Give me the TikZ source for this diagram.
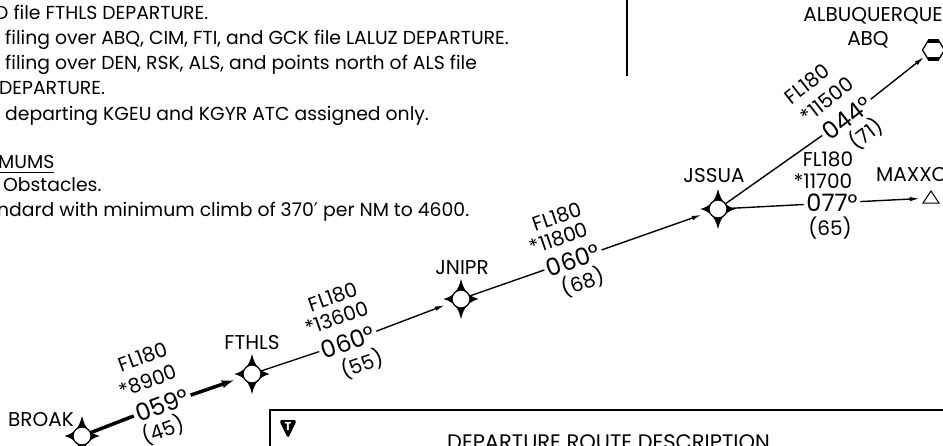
\documentclass[tikz,border=0pt]{standalone}
\usepackage{fontspec}
\setmainfont{Poppins}
\newfontfamily\djv{DejaVu Sans}
\usetikzlibrary{arrows.meta}
\begin{document}
\begin{tikzpicture}[x=1pt,y=-1pt,
  txt/.style={anchor=base west,inner sep=0pt,font=\fontsize{18.8}{18.8}\selectfont},
  lbl/.style={inner sep=0pt,font=\fontsize{20}{20}\selectfont},
  hdg/.style={inner sep=2.5pt,font=\fontsize{24}{24}\selectfont},
  wpt/.style={circle,minimum size=18pt,inner sep=0pt},
  leg/.style={line width=1.4pt},
  legarrow/.style={line width=1.4pt,-{Latex[length=10pt,width=4.5pt]}},
  thickleg/.style={line width=3.5pt},
  thickarrow/.style={line width=3.5pt,-{Latex[length=14pt,width=8pt]}},
  wstar/.pic={
    \fill (0,-20) .. controls (3,-7.5) and (7.5,-3) .. (17.5,0)
          .. controls (7.5,3) and (3,7.5) .. (0,20)
          .. controls (-3,7.5) and (-7.5,3) .. (-17.5,0)
          .. controls (-7.5,-3) and (-3,-7.5) .. cycle;
    \draw[fill=white,line width=1.2pt] (0,0) circle (9pt);
  }
]
\useasboundingbox (0,0) rectangle (943,445);
\clip (0,0) rectangle (943,445);

% left text block
\node[txt] (t1) at (-5,19) {D file FTHLS DEPARTURE.};
\node[txt] (t2) at (5,44) {filing over ABQ, CIM, FTI, and GCK file LALUZ DEPARTURE.};
\node[txt] (t3) at (5,69) {filing over DEN, RSK, ALS, and points north of ALS file};
\node[txt] (t4) at (-1,94) {DEPARTURE.};
\node[txt] (t5) at (5,120) {departing KGEU and KGYR ATC assigned only.};
\node[txt] (t6) at (-2,168) {MUMS};
\draw[line width=1pt] ([yshift=-4pt]t6.base west) -- ([yshift=-4pt]t6.base east);
\node[txt] (t7) at (3,191) {Obstacles.};
\node[txt] (t8) at (-3,216) {ndard with minimum climb of 370{\djv ′} per NM to 4600.};

% separator line
\draw[line width=1.5pt] (627,0) -- (627,76);

% waypoints
\node[wpt] (broak) at (82,436) {};
\node[wpt] (fthls) at (252,374) {};
\node[wpt] (jnipr) at (461,299) {};
\node[wpt] (jssua) at (718,209) {};
\node[circle,minimum size=22pt,inner sep=0pt] (abq) at (933,50) {};
\node[circle,minimum size=22pt,inner sep=0pt] (maxxo) at (931,198) {};

\node[lbl] (broakl) at (41,420) {BROAK};
\node[lbl] (fthlsl) at (252,343) {FTHLS};
\node[lbl] (jniprl) at (462,268) {JNIPR};
\node[lbl] (jssual) at (714,176) {JSSUA};
\node[lbl] (abql1) at (873,16) {ALBUQUERQUE};
\node[lbl] (abql2) at (868,40) {ABQ};
\node[lbl,anchor=west] (maxxol) at (876,175) {MAXXO};

% leg 1
\node[lbl,rotate=20] (l1a) at (143,357) {FL180};
\node[lbl,rotate=20] (l1b) at (148,381) {*8900};
\node[hdg,rotate=20] (h1) at (162,405) {059°};
\node[lbl,rotate=20] (l1d) at (163,430) {(45)};
\draw[thickleg] (broak) -- (h1);
\draw[thickarrow,shorten >=8pt] (h1) -- (fthls);

% leg 2
\node[lbl,rotate=19.5] (l2a) at (333,297) {FL180};
\node[lbl,rotate=19.5] (l2b) at (337,318) {*13600};
\node[hdg,rotate=19.5] (h2) at (348,342) {060°};
\node[lbl,rotate=19.5] (l2d) at (362,364) {(55)};
\draw[leg] (fthls) -- (h2);
\draw[legarrow,shorten >=8pt] (h2) -- (jnipr);

% leg 3
\node[lbl,rotate=19] (l3a) at (557,217) {FL180};
\node[lbl,rotate=19] (l3b) at (559,238) {*11800};
\node[hdg,rotate=19] (h3) at (573,260) {060°};
\node[lbl,rotate=19] (l3d) at (583,282) {(68)};
\draw[leg] (jnipr) -- (h3);
\draw[legarrow,shorten >=8pt] (h3) -- (jssua);

% leg 4
\node[lbl,rotate=38] (l4a) at (807,84) {FL180};
\node[lbl,rotate=38] (l4b) at (827,100) {*11500};
\node[hdg,rotate=38] (h4) at (847,118) {044°};
\node[lbl,rotate=38] (l4d) at (866,134) {(71)};
\draw[leg] (jssua) -- (h4);
\draw[legarrow] (h4) -- (abq);

% leg 5
\node[lbl] (l5a) at (828,159) {FL180};
\node[lbl] (l5b) at (823,181) {*11700};
\node[hdg] (h5) at (832,203) {077°};
\node[lbl] (l5d) at (830,228) {(65)};
\draw[leg] (jssua) -- (h5);
\draw[legarrow] (h5) -- (maxxo);

% symbols
\pic at (broak.center) {wstar};
\pic at (fthls.center) {wstar};
\pic at (jnipr.center) {wstar};
\pic at (jssua.center) {wstar};
\draw[line width=1.3pt] (922.5,50) -- (928,41) -- (939,41) -- (944.5,50) -- (939,59) -- (928,59) -- cycle;
\draw[line width=3.5pt] (928,41) -- (939,41) (928,59) -- (939,59);
\draw[line width=1pt,line join=miter] (923,203) -- (939,203) -- (931,191) -- cycle;

% description box
\draw[line width=2pt] (270,460) -- (270,410) -- (960,410);
\fill[rounded corners=3pt] (279,420) -- (297,420) -- (288,438.5) -- cycle;
\node[inner sep=0pt,text=white,font=\fontsize{11.5}{11.5}\selectfont\bfseries] (tsym) at (288,426.5) {T};
\node[anchor=base west,inner sep=0pt,font=\fontsize{21}{21}\selectfont] (desc) at (447,449) {DEPARTURE ROUTE DESCRIPTION};
\end{tikzpicture}
\end{document}
